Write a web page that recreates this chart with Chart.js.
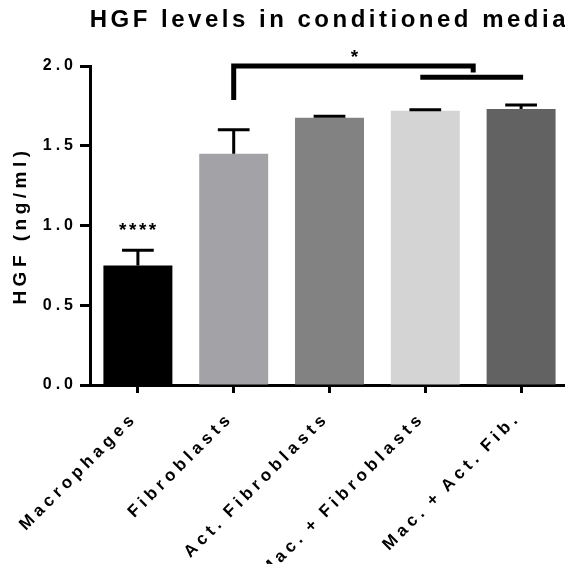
<!DOCTYPE html>
<html lang="en">
<head>
<meta charset="UTF-8">
<title>HGF levels in conditioned media</title>
<script src="https://cdn.jsdelivr.net/npm/chart.js@4.4.1/dist/chart.umd.min.js"></script>
<style>
    html, body { margin: 0; padding: 0; background: #fff; overflow: hidden; }
    canvas { display: block; }
</style>
</head>
<body>
<canvas id="hgfChart" width="569" height="564"></canvas>
<script>
    const groups = ['Macrophages', 'Fibroblasts', 'Act. Fibroblasts', 'Mac. + Fibroblasts', 'Mac. + Act. Fib.'];
    const hgfMean = [0.75, 1.45, 1.675, 1.72, 1.73];
    const hgfErr = [0.095, 0.15, 0.01, 0.006, 0.025];
    const barColors = ['#000000', '#a3a2a7', '#828282', '#d4d4d4', '#626262'];
    const groupStars = ['****', '', '', '', ''];
    const yTicks = [0.0, 0.5, 1.0, 1.5, 2.0];

    // significance bracket (category index / HGF units)
    const bracketFrom = 1, bracketTo = 3.5;
    const bracketLevel = 2.0, bracketLeftEnd = 1.787, bracketRightEnd = 1.96;
    const pairFrom = 3, pairTo = 4, pairLevel = 1.93;
    const bracketStar = '*';

    const FONT = 'Liberation Sans, Arial, sans-serif';

    // Prism-style wide letter spacing, set per element
    function withSpacing(obj, name, px, word) {
        if (!obj || obj[name]._spaced) return;
        const orig = obj[name];
        const wrapped = function (...args) {
            const ctx = this.ctx;
            const prev = ctx.letterSpacing, prevWord = ctx.wordSpacing;
            ctx.letterSpacing = px + 'px';
            ctx.wordSpacing = (word || 0) + 'px';
            const r = orig.apply(this, args);
            ctx.letterSpacing = prev;
            ctx.wordSpacing = prevWord;
            return r;
        };
        wrapped._spaced = true;
        obj[name] = wrapped;
    }

    const spacingPlugin = {
        id: 'spacing',
        afterLayout(chart) {
            withSpacing(chart.titleBlock, 'draw', 3.5);
            withSpacing(chart.scales.y, 'drawLabels', 4);
            withSpacing(chart.scales.y, 'drawTitle', 4.5);
            withSpacing(chart.scales.x, 'drawLabels', 4.5, -3);
        }
    };

    const annotations = {
        id: 'annotations',
        afterDatasetsDraw(chart) {
            const {ctx, scales: {x, y}} = chart;
            const meta = chart.getDatasetMeta(0);
            ctx.save();
            ctx.strokeStyle = '#000';
            ctx.fillStyle = '#000';
            ctx.lineCap = 'butt';

            // error bars (upper only)
            ctx.lineWidth = 3;
            hgfMean.forEach((m, i) => {
                const cx = x.getPixelForValue(i);
                const yTop = y.getPixelForValue(m);
                const yErr = y.getPixelForValue(m + hgfErr[i]);
                const capHalf = meta.data[i].width * 0.23;
                ctx.beginPath();
                ctx.moveTo(cx, yTop);
                ctx.lineTo(cx, yErr);
                ctx.moveTo(cx - capHalf, yErr);
                ctx.lineTo(cx + capHalf, yErr);
                ctx.stroke();
                if (groupStars[i]) {
                    ctx.font = 'bold 19px ' + FONT;
                    ctx.letterSpacing = '2.5px';
                    ctx.textAlign = 'center';
                    ctx.textBaseline = 'alphabetic';
                    ctx.fillText(groupStars[i], cx + 1, yErr - 14);
                    ctx.letterSpacing = '0px';
                }
            });

            // bracket
            ctx.lineWidth = 5;
            ctx.lineJoin = 'miter';
            ctx.beginPath();
            ctx.moveTo(x.getPixelForValue(bracketFrom), y.getPixelForValue(bracketLeftEnd));
            ctx.lineTo(x.getPixelForValue(bracketFrom), y.getPixelForValue(bracketLevel));
            ctx.lineTo(x.getPixelForValue(bracketTo), y.getPixelForValue(bracketLevel));
            ctx.lineTo(x.getPixelForValue(bracketTo), y.getPixelForValue(bracketRightEnd));
            ctx.stroke();
            ctx.beginPath();
            ctx.moveTo(x.getPixelForValue(pairFrom) - 5, y.getPixelForValue(pairLevel));
            ctx.lineTo(x.getPixelForValue(pairTo) + 2, y.getPixelForValue(pairLevel));
            ctx.stroke();

            ctx.font = 'bold 19px ' + FONT;
            ctx.textAlign = 'center';
            ctx.textBaseline = 'alphabetic';
            ctx.fillText(bracketStar, x.getPixelForValue((bracketFrom + bracketTo) / 2) + 1, y.getPixelForValue(bracketLevel) - 3);
            ctx.restore();
        }
    };

    Chart.defaults.font.family = FONT;
    Chart.defaults.color = '#000';

    new Chart(document.getElementById('hgfChart'), {
        type: 'bar',
        data: {
            labels: groups,
            datasets: [{
                data: hgfMean,
                backgroundColor: barColors,
                borderWidth: 0,
                barPercentage: 0.72,
                categoryPercentage: 1.0
            }]
        },
        options: {
            responsive: false,
            animation: false,
            layout: { padding: 0 },
            plugins: {
                legend: { display: false },
                tooltip: { enabled: false },
                title: {
                    display: true,
                    text: 'HGF levels in conditioned media',
                    align: 'end',
                    color: '#000',
                    font: { size: 24, weight: 'bold' },
                    padding: { top: 5.6, bottom: 31.6 }
                }
            },
            scales: {
                x: {
                    offset: true,
                    grid: {
                        offset: false,
                        drawOnChartArea: false,
                        drawTicks: true,
                        tickLength: 8,
                        tickWidth: 3,
                        tickColor: '#000'
                    },
                    border: { display: true, color: '#000', width: 3 },
                    ticks: {
                        autoSkip: false,
                        minRotation: 45,
                        maxRotation: 45,
                        padding: 15,
                        labelOffset: -3,
                        color: '#000',
                        font: { size: 17, weight: 'bold' }
                    },
                    afterFit(scale) { scale.height = 179; }
                },
                y: {
                    min: 0,
                    max: 2,
                    grid: {
                        drawOnChartArea: false,
                        drawTicks: true,
                        tickLength: 10,
                        tickWidth: 3,
                        tickColor: '#000'
                    },
                    border: { display: true, color: '#000', width: 3 },
                    afterBuildTicks(scale) {
                        scale.ticks = yTicks.map(v => ({ value: v }));
                    },
                    ticks: {
                        padding: 3,
                        color: '#000',
                        font: { size: 16, weight: 'bold' },
                        callback: v => Number(v).toFixed(1)
                    },
                    title: {
                        display: true,
                        text: 'HGF (ng/ml)',
                        color: '#000',
                        font: { size: 19, weight: 'bold' },
                        padding: { top: 9.6, bottom: 0 }
                    },
                    afterFit(scale) { scale.width = 90; }
                }
            }
        },
        plugins: [spacingPlugin, annotations]
    });
</script>
</body>
</html>
